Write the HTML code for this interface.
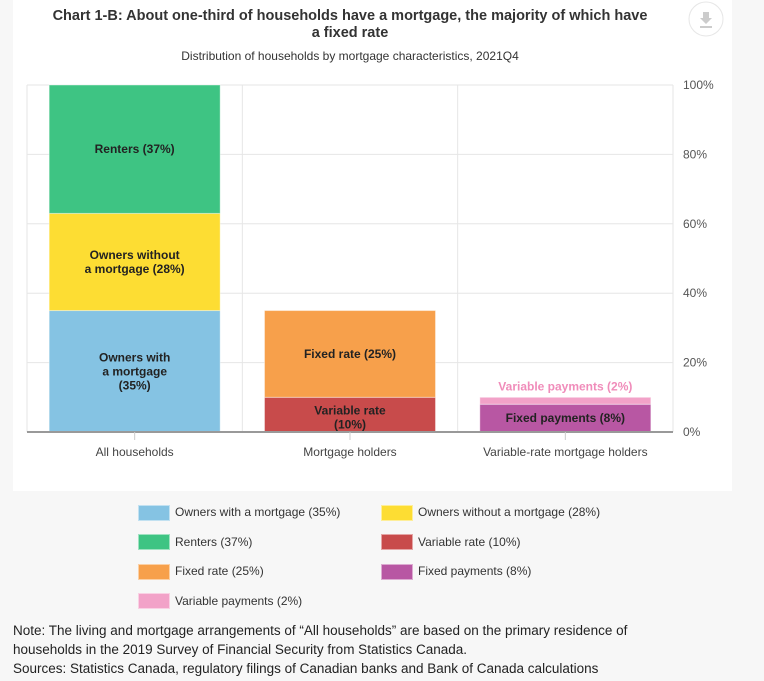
<!DOCTYPE html>
<html><head><meta charset="utf-8">
<style>
body{margin:0;width:764px;height:681px;background:#f7f7f7;font-family:"Liberation Sans",sans-serif;overflow:hidden;position:relative}
#panel{position:absolute;left:13px;top:0;width:719px;height:491px;background:#fff}
.leg{position:absolute;font-size:12px;color:#333;height:18px;line-height:18px}
.leg span{display:inline-block;width:32px;height:16px;vertical-align:middle;margin-right:5px;box-sizing:border-box;border:1px solid rgba(255,255,255,.5)}
#note{position:absolute;left:13px;top:621px;font-size:13.5px;color:#222;line-height:19px;width:650px}
</style></head><body>
<div id="panel"></div>
<svg id="chart" width="764" height="495" style="position:absolute;left:0;top:0">
<text x="350" y="20" text-anchor="middle" font-size="14.5" font-weight="bold" fill="#333">Chart 1-B: About one-third of households have a mortgage, the majority of which have</text>
<text x="350" y="37" text-anchor="middle" font-size="14.5" font-weight="bold" fill="#333">a fixed rate</text>
<text x="350" y="60" text-anchor="middle" font-size="12" fill="#333">Distribution of households by mortgage characteristics, 2021Q4</text>
<g><circle cx="706" cy="19" r="17" fill="#fff" stroke="#e6e6e6"/><path d="M703 12h6v6h3l-6 6-6-6h3z" fill="#ccc"/><rect x="700" y="26" width="12" height="2" fill="#ccc"/></g>
<g id="grid"></g><g id="bars"></g><g id="labels"></g>
</svg>
<div id="legend"></div>
<div id="note">Note: The living and mortgage arrangements of “All households” are based on the primary residence of households in the 2019 Survey of Financial Security from Statistics Canada.<br>Sources: Statistics Canada, regulatory filings of Canadian banks and Bank of Canada calculations</div>
<script>
const categories=["All households","Mortgage holders","Variable-rate mortgage holders"];
const seriesNames=["Owners with a mortgage","Owners without a mortgage","Renters","Variable rate","Fixed rate","Fixed payments","Variable payments"];
const seriesCat=[0,0,0,1,1,2,2];
const seriesValues=[35,28,37,10,25,8,2];
const seriesColors=["#85c3e3","#fddd33","#3ec483","#c84b4b","#f7a04b","#b857a3","#f2a2c8"];
const barLabels=[["Owners with","a mortgage","(35%)"],["Owners without","a mortgage (28%)"],["Renters (37%)"],["Variable rate","(10%)"],["Fixed rate (25%)"],["Fixed payments (8%)"],["Variable payments (2%)"]];
const yTicks=[0,20,40,60,80,100];
const NS="http://www.w3.org/2000/svg";
const x0=27,x1=673,y0=432,y1=85;
const band=(x1-x0)/categories.length;
const yS=v=>y0-(v/100)*(y0-y1);
const xC=i=>x0+band*(i+0.5);
const bw=171;
function mk(t,a,p){const e=document.createElementNS(NS,t);for(const k in a)e.setAttribute(k,a[k]);p.appendChild(e);return e;}
const grid=document.getElementById('grid'),bars=document.getElementById('bars'),labels=document.getElementById('labels');
yTicks.forEach(t=>{
 const l=mk('line',{x1:x0,x2:x1,y1:yS(t),y2:yS(t),stroke:'#e6e6e6'},grid);
 
 
 const tx=mk('text',{x:683,y:yS(t)+4,'font-size':12,fill:'#555'},grid);
 tx.textContent=t+'%';
 
 
});
for(let i=0;i<=categories.length;i++){
 const l=mk('line',{x1:x0+band*i,x2:x0+band*i,y1:y1,y2:y0,stroke:'#e6e6e6'},grid);
 
 
}
const stack=[0,0,0];
seriesValues.forEach((v,i)=>{
 const c=seriesCat[i],b=stack[c];stack[c]+=v;
 const top=yS(b+v),bot=yS(b);
 const r=mk('rect',{x:xC(c)-bw/2,y:top,width:bw,height:bot-top,fill:seriesColors[i],stroke:'rgba(255,255,255,0.4)'},bars);
 
 
 const lines=barLabels[i];
 let cy=(top+bot)/2, fill='#222';
 if(i===6){cy=top-11;fill='#f08cba';}
 if(i===3){cy=(top+bot)/2+3;}
 lines.forEach((s,k)=>{
  const t=mk('text',{x:xC(c),y:cy+4+(k-(lines.length-1)/2)*14,'text-anchor':'middle','font-size':12,'font-weight':'bold',fill:fill},labels);
  t.textContent=s;
  
  
 });
});
const ax=mk('line',{x1:x0,x2:x1,y1:y0,y2:y0,stroke:'#999','stroke-width':2},labels);


categories.forEach((c,i)=>{
 mk('line',{x1:xC(i),x2:xC(i),y1:y0,y2:y0+8,stroke:'#ccc'},labels);
 const t=mk('text',{x:xC(i),y:456,'text-anchor':'middle','font-size':12,fill:'#444'},labels);
 t.textContent=c;
 
 
});
const leg=document.getElementById('legend');
seriesNames.forEach((n,i)=>{
 const d=document.createElement('div');d.className='leg';
 d.style.left=(i%2?381:138)+'px';d.style.top=(503+Math.floor(i/2)*29.5)+'px';
 d.innerHTML='<span style="background:'+seriesColors[i]+'"></span>'+n+' ('+seriesValues[i]+'%)';
 
 
 leg.appendChild(d);
});
</script>
</body></html>
